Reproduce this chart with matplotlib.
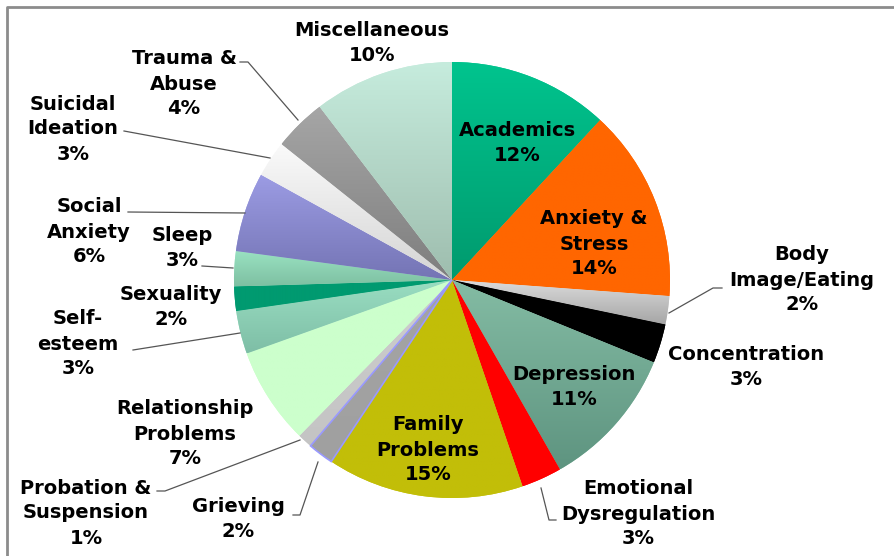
import numpy as np
import matplotlib
matplotlib.use("Agg")
import matplotlib.pyplot as plt
from matplotlib.colors import LinearSegmentedColormap
from matplotlib.patches import Wedge

# ---- data ----
categories = ["Academics", "Anxiety &\nStress", "Body\nImage/Eating", "Concentration",
              "Depression", "Emotional\nDysregulation", "Family\nProblems", "Grieving",
              "Probation &\nSuspension", "Relationship\nProblems", "Self-\nesteem",
              "Sexuality", "Sleep", "Social\nAnxiety", "Suicidal\nIdeation",
              "Trauma &\nAbuse", "Miscellaneous"]
values = [11.9, 14.3, 2.1, 2.9, 10.6, 3.0, 14.6, 1.9, 1.1, 7.2, 3.2, 1.8, 2.6, 5.9, 2.7, 3.9, 10.4]

# top colour / bottom colour of each slice (gradient fill)
top_colors = ["#00C48E", "#FF6600", "#DCDCDC", "#000000", "#84BCA4", "#FF0000", "#C2BE08",
              "#A4A4A4", "#CDCDCD", "#CCFFCC", "#9ADEC2", "#009A70", "#9AE2C2", "#9C9CE4",
              "#FAFAFA", "#A6A6A6", "#C6ECDD"]
bot_colors = ["#009A6E", "#FF6600", "#A6A6A6", "#000000", "#5E9480", "#FF0000", "#C2BE08",
              "#A0A0A0", "#C4C4C4", "#CCFFCC", "#7EBEA6", "#009A70", "#7EC0A2", "#7474B4",
              "#D4D4D4", "#7E7E7E", "#9EBDAE"]

W, H = 894, 556
fig = plt.figure(figsize=(W / 100, H / 100), dpi=100)
ax = fig.add_axes([0, 0, 1, 1])

cx, cy, R = 452, H - 280, 218
wedges, _ = ax.pie(values, colors=top_colors, startangle=90, counterclock=False,
                   radius=R, center=(cx, cy), frame=True,
                   wedgeprops=dict(linewidth=0))

grad = np.linspace(0, 1, 256).reshape(-1, 1)
for w, tc, bc in zip(wedges, top_colors, bot_colors):
    t = np.radians(np.linspace(w.theta1, w.theta2, 100))
    xs = np.concatenate([[cx], cx + R * np.cos(t)])
    ys = np.concatenate([[cy], cy + R * np.sin(t)])
    cmap = LinearSegmentedColormap.from_list("g", [bc, tc])
    im = ax.imshow(grad, cmap=cmap, origin="lower", aspect="auto",
                   extent=[xs.min(), xs.max(), ys.min(), ys.max()],
                   zorder=w.get_zorder() + 0.1, interpolation="bilinear")
    im.set_clip_path(w)

# Grieving slice outline
gw = wedges[categories.index("Grieving")]
ax.add_patch(Wedge((cx, cy), R, gw.theta1, gw.theta2, facecolor="none",
                   edgecolor="#9999FF", linewidth=1.2, zorder=5))

labels = [f"{c}\n{round(v)}%" for c, v in zip(categories, values)]

# label positions (pixel coords from top-left)
pos = {
    "Academics": (517, 143),
    "Anxiety &\nStress": (594, 244),
    "Body\nImage/Eating": (802, 280),
    "Concentration": (746, 367),
    "Depression": (574, 387),
    "Emotional\nDysregulation": (638, 514),
    "Family\nProblems": (428, 450),
    "Grieving": (238, 519),
    "Probation &\nSuspension": (86, 513),
    "Relationship\nProblems": (185, 434),
    "Self-\nesteem": (78, 344),
    "Sexuality": (171, 307),
    "Sleep": (182, 248),
    "Social\nAnxiety": (89, 232),
    "Suicidal\nIdeation": (73, 129),
    "Trauma &\nAbuse": (184, 84),
    "Miscellaneous": (372, 43),
}
for c, lab in zip(categories, labels):
    x, y = pos[c]
    ax.text(x, H - y, lab, ha="center", va="center", fontsize=14, fontweight="bold",
            family="DejaVu Sans", color="black", zorder=10, linespacing=1.4)

# leader lines (pixel coords from top-left)
leaders = [
    [(722, 288), (713, 288), (669, 313)],
    [(541, 488), (549, 520), (556, 520)],
    [(293, 515), (300, 515), (318, 462)],
    [(157, 491), (165, 491), (300, 440)],
    [(133, 350), (240, 333)],
    [(202, 266), (233, 268)],
    [(128, 212), (245, 213)],
    [(124, 131), (270, 158)],
    [(240, 62), (248, 62), (298, 120)],
]
for ln in leaders:
    xs = [p[0] for p in ln]
    ys = [H - p[1] for p in ln]
    ax.plot(xs, ys, color="#555555", linewidth=0.9, zorder=3)

# frame (top and left visible)
ax.plot([7, 7, W + 5], [-5, H - 7, H - 7], color="#8C8C8C", linewidth=2, zorder=11)

ax.set_xlim(0, W)
ax.set_ylim(0, H)
ax.set_aspect("auto")
ax.axis("off")
fig.savefig("out.png", dpi=100)
